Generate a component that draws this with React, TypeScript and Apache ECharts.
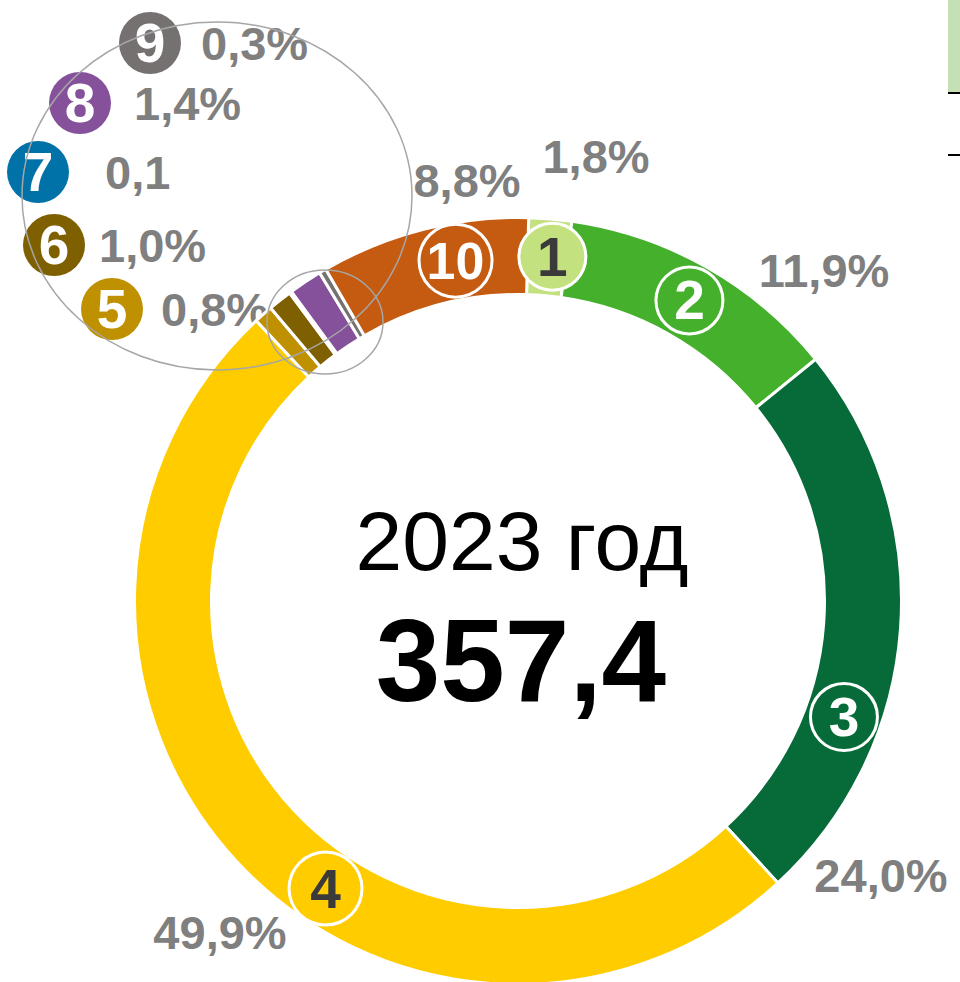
import React, { useEffect, useRef } from "react";
import * as echarts from "echarts";

// ---- data ----
const categories = ["1", "2", "3", "4", "5", "6", "7", "8", "9", "10"];
const shares = [1.8, 11.9, 24.0, 49.9, 0.8, 1.0, 0.1, 1.4, 0.3, 8.8];
const shareLabels = ["1,8%", "11,9%", "24,0%", "49,9%", "0,8%", "1,0%", "0,1", "1,4%", "0,3%", "8,8%"];
const yearLabel = "2023 год";
const totalLabel = "357,4";

// ---- styles ----
const colors = ["#C4E17F", "#44B02C", "#066B38", "#FFCC00", "#BF9000", "#7F6000", "#0072A8", "#85519B", "#767171", "#C55A11"];
const badgeTextColors = ["#3A3A3A", "#FFFFFF", "#FFFFFF", "#3A3A3A", "#FFFFFF", "#FFFFFF", "#FFFFFF", "#FFFFFF", "#FFFFFF", "#FFFFFF"];
const FONT = "Liberation Sans, Arial, sans-serif";

// ---- layout ----
const CX = 518;
const CY = 601;
const BADGE_R = 346;
// badges sitting on the ring: clockwise degrees from 12 o'clock
const ringBadgeAngle: Record<number, number> = { 0: 5.7, 1: 29.7, 2: 109.6, 3: 213.8, 9: 349.6 };
const ringBadgeSize: Record<number, number> = { 0: 64, 1: 64, 2: 64, 3: 70, 9: 70 };
// badges listed inside the magnifier
const listBadgePos: Record<number, [number, number]> = { 4: [112, 309], 5: [54, 245], 6: [38, 172], 7: [80, 103], 8: [150, 43] };
// percentage text anchors
const pctPos: Record<number, [number, number, "center" | "left"]> = {
  0: [596, 156, "center"],
  1: [824, 270, "center"],
  2: [881, 875, "center"],
  3: [220, 932, "center"],
  4: [161, 309, "left"],
  5: [99, 245, "left"],
  6: [105, 172, "left"],
  7: [134, 103, "left"],
  8: [201, 43, "left"],
  9: [467, 180, "center"],
};

export default function App() {
  const ref = useRef<HTMLDivElement>(null);
  useEffect(() => {
    if (!ref.current) return;
    const chart = echarts.init(ref.current, null, { renderer: "svg" });

    const ringData = categories.map((name, i) => {
      const onRing = ringBadgeAngle[i] != null;
      const d = onRing ? ringBadgeSize[i] : 62;
      return {
        name,
        value: shares[i],
        itemStyle: { color: colors[i] },
        label: {
          show: true,
          position: "inside" as const,
          formatter: name,
          fontFamily: FONT,
          fontWeight: "bold" as const,
          fontSize: name.length > 1 ? 52 : 55,
          color: badgeTextColors[i],
          backgroundColor: colors[i],
          width: d,
          height: d,
          lineHeight: d,
          borderRadius: d / 2,
          borderColor: onRing ? "#FFFFFF" : "transparent",
          borderWidth: onRing ? 3 : 0,
          align: "center" as const,
          verticalAlign: "middle" as const,
          padding: 0,
        },
      };
    });

    const pctData = categories.map((name, i) => ({
      name,
      value: shares[i],
      itemStyle: { color: "rgba(0,0,0,0)" },
      label: {
        show: true,
        position: "inside" as const,
        formatter: shareLabels[i],
        fontFamily: FONT,
        fontWeight: "bold" as const,
        fontSize: 47,
        color: "#7F7F7F",
      },
    }));

    chart.setOption({
      animation: false,
      series: [
        {
          type: "pie",
          center: [CX, CY],
          radius: [306.5, 383.5],
          startAngle: 88.4,
          clockwise: true,
          silent: true,
          itemStyle: { borderColor: "#FFFFFF", borderWidth: 3 },
          labelLine: { show: false },
          emphasis: { disabled: true },
          data: pctData,
          labelLayout: (p: any) => {
            const pos = pctPos[p.dataIndex];
            return { x: pos[0], y: pos[1], align: pos[2], verticalAlign: "middle" };
          },
          z: 1,
        },
        {
          type: "pie",
          center: [CX, CY],
          radius: [306.5, 383.5],
          startAngle: 88.4,
          clockwise: true,
          silent: true,
          itemStyle: { borderColor: "#FFFFFF", borderWidth: 3 },
          labelLine: { show: false },
          emphasis: { disabled: true },
          data: ringData,
          labelLayout: (p: any) => {
            const i = p.dataIndex;
            let x: number;
            let y: number;
            if (ringBadgeAngle[i] != null) {
              const a = (ringBadgeAngle[i] * Math.PI) / 180;
              x = CX + BADGE_R * Math.sin(a);
              y = CY - BADGE_R * Math.cos(a);
            } else {
              [x, y] = listBadgePos[i];
            }
            return { x, y, align: "center", verticalAlign: "middle" };
          },
          z: 2,
        },
      ],
      graphic: [
        {
          type: "text",
          z: 10,
          style: {
            x: 522,
            y: 541,
            text: yearLabel,
            align: "center",
            verticalAlign: "middle",
            fontFamily: FONT,
            fontSize: 84,
            fill: "#000000",
          },
        },
        {
          type: "text",
          z: 10,
          style: {
            x: 521,
            y: 661,
            text: totalLabel,
            align: "center",
            verticalAlign: "middle",
            fontFamily: FONT,
            fontWeight: "bold",
            fontSize: 116,
            fill: "#000000",
          },
        },
        {
          type: "ellipse",
          z: 20,
          silent: true,
          shape: { cx: 217, cy: 196, rx: 195, ry: 174 },
          style: { fill: "none", stroke: "#A6A6A6", lineWidth: 1.5 },
        },
        {
          type: "ellipse",
          z: 20,
          silent: true,
          shape: { cx: 325, cy: 322, rx: 58, ry: 52 },
          style: { fill: "none", stroke: "#A6A6A6", lineWidth: 1.5 },
        },
        {
          type: "rect",
          z: 5,
          shape: { x: 948, y: 0, width: 12, height: 92 },
          style: { fill: "#C5E0B4" },
        },
        {
          type: "line",
          z: 5,
          shape: { x1: 948, y1: 93, x2: 960, y2: 93 },
          style: { stroke: "#000000", lineWidth: 2 },
        },
        {
          type: "line",
          z: 5,
          shape: { x1: 948, y1: 155, x2: 960, y2: 155 },
          style: { stroke: "#000000", lineWidth: 2 },
        },
      ],
    });
    return () => chart.dispose();
  }, []);

  return (
    <div
      ref={ref}
      style={{ position: "fixed", left: 0, top: 0, width: 960, height: 982, background: "#FFFFFF" }}
    />
  );
}
